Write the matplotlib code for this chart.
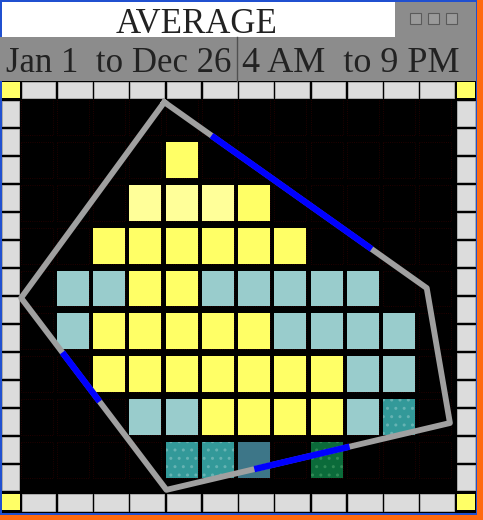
import numpy as np
import matplotlib.pyplot as plt
from matplotlib.patches import Rectangle

# --- data ---
title = "AVERAGE"
date_range = "Jan 1  to Dec 26"
hour_range = "4 AM  to 9 PM"

months = ['Jan', 'Feb', 'Mar', 'Apr', 'May', 'Jun',
          'Jul', 'Aug', 'Sep', 'Oct', 'Nov', 'Dec']
n_side_ticks = 14

# cell classes per row (top -> bottom), one char per month column
cell_rows = [
    "............",
    "....Y.......",
    "...PPPY.....",
    "..YYYYYY....",
    ".CCYYCCCCC..",
    ".CYYYYYCCCC.",
    "..YYYYYYYCC.",
    "...CCYYYYCT.",
    "....TTD.G...",
]
cell_colors = {'Y': '#ffff66', 'P': '#ffff99', 'C': '#99cccc',
               'T': '#339999', 'D': '#3d7688', 'G': '#0b6b3a'}
cell_hatch = {'T': '#66b3b3', 'G': '#2f8a55'}

# outline polygon (column, row units) and its highlighted stretches
zone_x = [3.98, 11.22, 11.86, 4.04, 0.03]
zone_y = [0.07, 4.41, 7.56, 9.12, 4.64]
blue_edge = [0, 2, 3]
blue_from = [0.18, 0.354, 0.46]
blue_to = [0.79, 0.69, 0.716]

W, H = 483, 520
fig = plt.figure(figsize=(W / 100, H / 100), dpi=100)
fig.patch.set_facecolor('#ff6a10')

bg = fig.add_axes([0, 0, 1, 1])
bg.set_xlim(0, W)
bg.set_ylim(H, 0)
bg.axis('off')


def box(x0, y0, x1, y1, color, edge='none', lw=0):
    bg.add_patch(Rectangle((x0, y0), x1 - x0, y1 - y0, facecolor=color,
                           edgecolor=edge, linewidth=lw))


# window chrome
box(0, 0, 477, 515, '#2050d0')
box(2, 2, 395, 37, 'white')
box(395, 2, 476, 37, '#8c8c8c')
box(0, 37, 476, 81, '#8c8c8c')
bg.plot([237, 237], [37, 81], color='#505050', lw=1)
for bx in (410, 428, 446):
    box(bx, 13, bx + 11, 24, '#9a9a9a', edge='#5a5a5a', lw=0.8)
box(2, 81, 476, 513, 'black')

serif = ['Liberation Serif', 'DejaVu Serif']
bg.text(197, 33, title, ha='center', va='baseline', fontsize=25,
        family=serif, color='#222222')
bg.text(231, 72, date_range, ha='right', va='baseline', fontsize=25,
        family=serif, color='#222222')
bg.text(242, 72, hour_range, ha='left', va='baseline', fontsize=26,
        family=serif, color='#222222')

# frame of tick squares
left, right, top, bottom = 20, 455, 100, 492
col_w = (right - left) / len(months)
row_h = (bottom - top) / n_side_ticks
sq = '#dcdcdc'
for i in range(len(months)):
    x0 = left + i * col_w + 1.5
    x1 = left + (i + 1) * col_w - 1
    box(x0, 82, x1, 98, sq, edge='#b8b8b8', lw=0.6)
    box(x0, 494, x1, 511, sq, edge='#b8b8b8', lw=0.6)
for j in range(n_side_ticks):
    y0 = top + j * row_h + 1
    y1 = top + (j + 1) * row_h - 2
    box(2, y0, 19, y1, sq, edge='#b8b8b8', lw=0.6)
    box(457, y0, 475, y1, sq, edge='#b8b8b8', lw=0.6)
for cx, cy in [(2, 82), (457, 82), (2, 494), (457, 494)]:
    box(cx, cy, cx + 18, cy + 16, '#ffff66')

# main grid
ax = fig.add_axes([left / W, (H - bottom) / H, (right - left) / W, (bottom - top) / H])
ax.set_facecolor('black')
ax.set_xlim(0, len(months))
ax.set_ylim(9.17, 0.02)
ax.axis('off')

cw, ch = 0.88, 0.84
for r, row in enumerate(cell_rows):
    for c, code in enumerate(row):
        ax.add_patch(Rectangle((c + 0.02, r), cw, ch, facecolor='none',
                               edgecolor='#2e0000', linewidth=0.6,
                               linestyle=':', zorder=1))
        if code == '.':
            continue
        ax.add_patch(Rectangle((c + 0.02, r), cw, ch,
                               facecolor=cell_colors[code],
                               edgecolor=cell_hatch.get(code, 'none'),
                               hatch='..' if code in cell_hatch else None,
                               linewidth=0, zorder=2))

px = zone_x + zone_x[:1]
py = zone_y + zone_y[:1]
ax.plot(px, py, color='#a0a0a0', lw=4.2, zorder=3, clip_on=False,
        solid_joinstyle='round')
for e, f0, f1 in zip(blue_edge, blue_from, blue_to):
    xa, ya = zone_x[e], zone_y[e]
    xb, yb = zone_x[(e + 1) % 5], zone_y[(e + 1) % 5]
    ax.plot([xa + f0 * (xb - xa), xa + f1 * (xb - xa)],
            [ya + f0 * (yb - ya), ya + f1 * (yb - ya)],
            color='#0000ff', lw=4.6, zorder=4, solid_capstyle='butt')

fig.savefig('out.png', dpi=100)
